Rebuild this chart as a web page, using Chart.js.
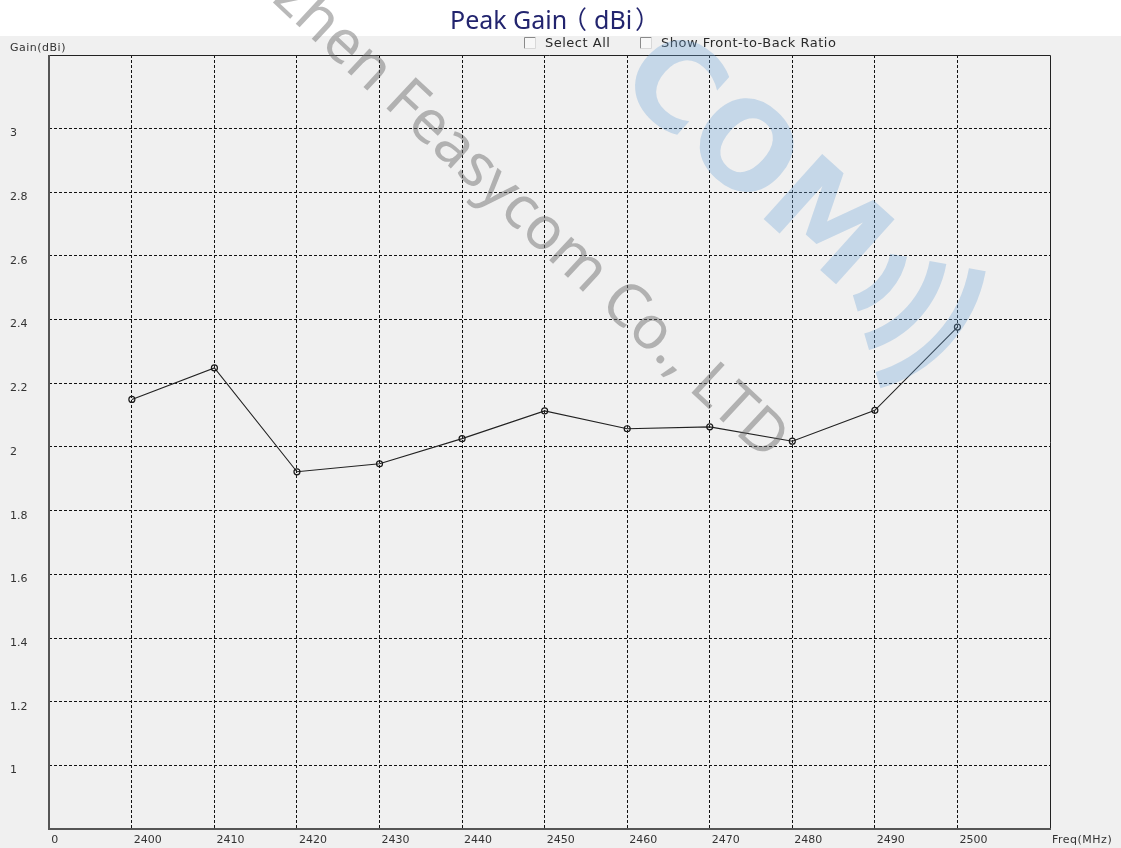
<!DOCTYPE html>
<html>
<head>
<meta charset="utf-8">
<script src="https://cdn.jsdelivr.net/npm/chart.js@4.4.0/dist/chart.umd.min.js"></script>
<style>
  html, body { margin: 0; padding: 0; background: #fff; }
  canvas { display: block; }
</style>
</head>
<body>
<canvas id="gain-chart" width="1121" height="848"></canvas>
<script>
// peak gain per frequency
const freqs = [2400, 2410, 2420, 2430, 2440, 2450, 2460, 2470, 2480, 2490, 2500];
const gains = [2.149, 2.248, 1.922, 1.947, 2.026, 2.113, 2.057, 2.063, 2.018, 2.115, 2.376];

const xTicks = [2390, 2400, 2410, 2420, 2430, 2440, 2450, 2460, 2470, 2480, 2490, 2500];
const xTickLabels = ["0", "2400", "2410", "2420", "2430", "2440", "2450", "2460", "2470", "2480", "2490", "2500"];
const yTicks = [1, 1.2, 1.4, 1.6, 1.8, 2, 2.2, 2.4, 2.6, 2.8, 3];

const smallFont = '11px "DejaVu Sans"';

function drawCheckbox(ctx, x, y, label) {
  ctx.fillStyle = "#f7f7f7";
  ctx.fillRect(x, y, 11, 11);
  ctx.strokeStyle = "#8a8a8a";
  ctx.lineWidth = 1;
  ctx.beginPath();
  ctx.moveTo(x + 0.5, y + 11.5);
  ctx.lineTo(x + 0.5, y + 0.5);
  ctx.lineTo(x + 11.5, y + 0.5);
  ctx.stroke();
  ctx.strokeStyle = "#d8d8d8";
  ctx.beginPath();
  ctx.moveTo(x + 11.5, y + 0.5);
  ctx.lineTo(x + 11.5, y + 11.5);
  ctx.lineTo(x + 0.5, y + 11.5);
  ctx.stroke();
  ctx.fillStyle = "#2a2a2a";
  ctx.font = '13px "DejaVu Sans"';
  ctx.letterSpacing = "0.5px";
  ctx.textBaseline = "middle";
  ctx.textAlign = "left";
  ctx.fillText(label, x + 21, y + 7);
  ctx.letterSpacing = "0px";
}

const backdrop = {
  id: "backdrop",
  beforeDraw(chart) {
    const ctx = chart.ctx;
    ctx.save();
    ctx.fillStyle = "#fff";
    ctx.fillRect(0, 0, chart.width, 36);
    ctx.fillStyle = "#f0f0f0";
    ctx.fillRect(0, 36, chart.width, chart.height - 36);

    // title: latin part, then the full-width brackets spaced like the original
    ctx.fillStyle = "#22246e";
    ctx.textBaseline = "alphabetic";
    ctx.textAlign = "left";
    ctx.font = '25px "Noto Sans"';
    ctx.fillText("Peak Gain", 450, 29);
    ctx.fillText("dBi", 594, 29);
    ctx.font = '25px "Noto Sans CJK SC"';
    ctx.fillText("（", 562, 29);
    ctx.fillText("）", 635, 29);

    drawCheckbox(ctx, 524, 37, "Select All");
    drawCheckbox(ctx, 640, 37, "Show Front-to-Back Ratio");

    ctx.fillStyle = "#333";
    ctx.font = smallFont;
    ctx.letterSpacing = "0.5px";
    ctx.textBaseline = "middle";
    ctx.fillText("Gain(dBi)", 10, 48);
    ctx.letterSpacing = "0px";
    ctx.restore();
  },
  afterDraw(chart) {
    const ctx = chart.ctx;
    const a = chart.chartArea;
    ctx.save();
    // frame
    ctx.strokeStyle = "#222";
    ctx.lineWidth = 1;
    ctx.beginPath();
    ctx.moveTo(Math.round(a.left), Math.round(a.top) + 0.5);
    ctx.lineTo(Math.round(a.right) + 0.5, Math.round(a.top) + 0.5);
    ctx.lineTo(Math.round(a.right) + 0.5, Math.round(a.bottom));
    ctx.stroke();
    ctx.strokeStyle = "#555";
    ctx.lineWidth = 2;
    ctx.beginPath();
    ctx.moveTo(Math.round(a.left), Math.round(a.top));
    ctx.lineTo(Math.round(a.left), Math.round(a.bottom));
    ctx.lineTo(Math.round(a.right) + 1, Math.round(a.bottom));
    ctx.stroke();

    ctx.fillStyle = "#333";
    ctx.font = smallFont;
    ctx.letterSpacing = "0.5px";
    ctx.textBaseline = "middle";
    ctx.textAlign = "left";
    ctx.fillText("Freq(MHz)", 1052, 840);
    ctx.letterSpacing = "0px";

    // blue logo watermark
    ctx.save();
    ctx.translate(750, 165);
    ctx.rotate(42 * Math.PI / 180);
    ctx.fillStyle = "rgba(110, 165, 215, 0.33)";
    ctx.strokeStyle = "rgba(110, 165, 215, 0.33)";
    ctx.font = 'bold 120px "DejaVu Sans"';
    ctx.textAlign = "center";
    ctx.textBaseline = "middle";
    ctx.fillText("COM", 0, 0);
    ctx.lineWidth = 17;
    [62, 102, 142].forEach((r) => {
      ctx.beginPath();
      ctx.arc(118, 0, r, -0.55, 0.55);
      ctx.stroke();
    });
    ctx.restore();

    // grey text watermark
    ctx.save();
    ctx.translate(394, 92);
    ctx.rotate(43 * Math.PI / 180);
    ctx.fillStyle = "rgba(100, 100, 100, 0.45)";
    ctx.font = '60px "Noto Sans"';
    ctx.textBaseline = "middle";
    ctx.textAlign = "right";
    ctx.fillText("Shenzhen ", 0, 0);
    ctx.textAlign = "left";
    ctx.fillText("Feasycom Co., LTD", 0, 0);
    ctx.restore();

    ctx.restore();
  }
};

const ctx = document.getElementById("gain-chart").getContext("2d");
new Chart(ctx, {
  type: "line",
  data: {
    datasets: [{
      label: "Peak Gain",
      data: freqs.map((f, i) => ({ x: f, y: gains[i] })),
      borderColor: "#222",
      borderWidth: 1.1,
      pointRadius: 3,
      pointBorderWidth: 1.2,
      pointBorderColor: "#1a1a1a",
      pointBackgroundColor: "rgba(0,0,0,0)",
      tension: 0
    }]
  },
  options: {
    responsive: false,
    devicePixelRatio: 1,
    animation: false,
    layout: { padding: { left: 10, top: 55, right: 70.7, bottom: 0 } },
    plugins: {
      legend: { display: false },
      tooltip: { enabled: false }
    },
    scales: {
      x: {
        type: "linear",
        min: 2390,
        max: 2511.25,
        afterBuildTicks: (scale) => { scale.ticks = xTicks.map((v) => ({ value: v })); },
        afterFit: (scale) => { scale.height = 18.7; },
        ticks: {
          autoSkip: false,
          maxRotation: 0,
          align: "start",
          labelOffset: 2,
          padding: 4,
          color: "#333",
          font: { family: "DejaVu Sans", size: 11 },
          callback: (v, i) => xTickLabels[i]
        },
        grid: { color: "#111", lineWidth: 1, drawTicks: false },
        border: { display: false, dash: [3, 2] }
      },
      y: {
        min: 0.8,
        max: 3.23,
        afterBuildTicks: (scale) => { scale.ticks = yTicks.map((v) => ({ value: v })); },
        afterFit: (scale) => { scale.width = 39.3; },
        ticks: {
          crossAlign: "far",
          labelOffset: 5,
          color: "#333",
          font: { family: "DejaVu Sans", size: 11 },
          callback: (v) => String(v)
        },
        grid: { color: "#111", lineWidth: 1, drawTicks: false },
        border: { display: false, dash: [3, 2] }
      }
    }
  },
  plugins: [backdrop]
});
</script>
</body>
</html>
